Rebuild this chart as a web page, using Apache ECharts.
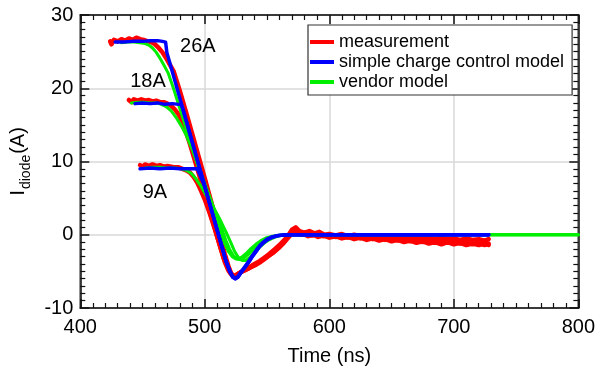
<!DOCTYPE html>
<html>
<head>
<meta charset="utf-8">
<script src="https://cdn.jsdelivr.net/npm/echarts@6/dist/echarts.min.js"></script>
<style>html,body{margin:0;padding:0;background:#fff}#c{width:598px;height:371px}</style>
</head>
<body>
<div id="c"></div>
<script>
// ---- data (time in ns, current in A) ----
const xTicks = [400, 500, 600, 700, 800];
const yTicks = [-10, 0, 10, 20, 30];
const legendNames = ['measurement', 'simple charge control model', 'vendor model'];

const meas26 = [[424,26.4],[425,26.0],[427,26.6],[430,26.4],[433,26.7],[436,26.5],[439,26.8],[442,26.6],[445,26.9],[448,26.7],[451,26.6],[454,26.4],[457,26.3],[460,26.0],[463,25.5],[466,24.9],[469,24.1],[472,23.2],[475,22.3],[480,19.6],[485,16.7],[490,13.7],[495,10.7],[500,7.7],[505,4.6],[509,2.1],[513,-0.5],[516,-2.6],[519,-4.3],[521,-5.2],[523,-5.7],[525,-5.6],[527,-5.3],[530,-5.0],[533,-4.8],[536,-4.5],[540,-4.2],[544,-3.8],[548,-3.3],[552,-2.8],[556,-2.3],[560,-1.7],[563,-1.1],[566,-0.5],[569,0.1],[572,0.6],[575,0.3],[578,0.0],[582,0.2],[586,-0.1],[590,0.1],[595,-0.2],[600,0.0],[605,-0.3],[610,-0.1],[615,-0.4],[620,-0.2],[625,-0.5],[630,-0.3],[635,-0.6],[640,-0.4],[645,-0.7],[650,-0.5],[655,-0.8],[660,-0.6],[665,-0.9],[670,-0.7],[675,-1.0],[680,-0.8],[685,-1.1],[690,-0.8],[695,-1.1],[700,-0.9],[705,-1.2],[710,-1.0],[715,-1.3],[720,-1.1],[725,-1.4],[728,-1.2]];
const meas18 = [[439,18.4],[441,18.1],[443,18.5],[446,18.3],[449,18.5],[452,18.3],[455,18.4],[458,18.2],[461,18.3],[464,18.1],[467,18.1],[470,17.9],[473,17.6],[476,17.1],[479,16.4],[482,15.3],[485,14.0],[488,12.4],[491,10.7],[495,8.4],[500,5.5],[505,2.6],[509,0.3],[513,-2.0],[516,-3.7],[519,-4.9],[522,-5.6],[524,-5.7],[526,-5.5],[529,-5.1],[532,-4.8],[536,-4.4],[540,-4.0],[544,-3.6],[548,-3.1],[552,-2.6],[556,-2.0],[560,-1.4],[564,-0.7],[567,-0.1],[570,0.7],[573,1.0],[576,0.5],[580,0.3],[584,0.5],[588,0.2],[592,0.4],[596,0.0],[600,0.1],[605,-0.1],[610,0.1],[615,-0.2],[620,0.0],[625,-0.2],[630,-0.1],[635,-0.3],[640,-0.2],[645,-0.4],[650,-0.2],[655,-0.4],[660,-0.3],[665,-0.5],[670,-0.3],[675,-0.5],[680,-0.4],[685,-0.6],[690,-0.4],[695,-0.6],[700,-0.5],[705,-0.7],[710,-0.5],[715,-0.7],[720,-0.6],[725,-0.8],[728,-0.6]];
const meas9 = [[448,9.5],[450,9.3],[452,9.6],[455,9.4],[458,9.6],[461,9.4],[464,9.5],[467,9.3],[470,9.4],[473,9.3],[476,9.2],[479,9.2],[482,9.0],[485,8.8],[488,8.5],[491,7.9],[494,7.1],[497,6.0],[500,4.8],[504,2.9],[508,0.8],[512,-1.4],[515,-3.1],[518,-4.4],[521,-5.3],[523,-5.6],[525,-5.5],[528,-5.2],[531,-4.9],[535,-4.6],[539,-4.2],[543,-3.8],[547,-3.4],[551,-2.9],[555,-2.4],[559,-1.8],[563,-1.2],[566,-0.6],[569,0.0],[572,0.5],[575,0.2],[579,0.1],[583,-0.2],[587,0.0],[591,-0.3],[595,-0.1],[600,-0.4],[605,-0.2],[610,-0.5],[615,-0.3],[620,-0.6],[625,-0.4],[630,-0.7],[635,-0.5],[640,-0.8],[645,-0.6],[650,-0.9],[655,-0.7],[660,-1.0],[665,-0.8],[670,-1.1],[675,-0.9],[680,-1.2],[685,-1.0],[690,-1.3],[695,-1.0],[700,-1.3],[705,-1.1],[710,-1.4],[715,-1.2],[720,-1.4],[725,-1.2],[728,-1.4]];

const scc26 = [[428,26.3],[435,26.3],[442,26.4],[450,26.4],[456,26.5],[462,26.5],[466,26.4],[468.5,26.3],[469.5,24.9],[475,21.6],[480,18.6],[485,15.6],[490,12.6],[495,9.6],[500,6.6],[505,3.6],[510,0.6],[514,-1.8],[517,-3.6],[520,-5.0],[522.5,-5.8],[524.5,-6.0],[526.5,-5.8],[529,-5.2],[532,-4.5],[535,-3.8],[538,-3.0],[541,-2.3],[544,-1.6],[547,-1.1],[550,-0.7],[554,-0.35],[558,-0.15],[563,-0.05],[570,0],[728,0]];
const scc18 = [[444,17.9],[450,18.0],[456,17.9],[462,18.0],[468,17.8],[474,17.9],[479,17.8],[481,17.8],[482.5,17.1],[485,15.6],[490,12.6],[495,9.6],[500,6.6],[505,3.6],[510,0.6],[514,-1.8],[517,-3.6],[520,-5.0],[522.5,-5.8],[524.5,-6.0],[526.5,-5.8],[529,-5.2],[532,-4.5],[535,-3.8],[538,-3.0],[541,-2.3],[544,-1.6],[547,-1.1],[550,-0.7],[554,-0.35],[558,-0.15],[563,-0.05],[570,0],[728,0]];
const scc9 = [[448,9.0],[456,9.1],[464,9.0],[472,9.1],[480,9.0],[488,9.0],[494,9.0],[495.5,9.0],[500,6.6],[505,3.6],[510,0.6],[514,-1.8],[517,-3.6],[520,-4.9],[522.5,-5.7],[524.5,-5.9],[526.5,-5.7],[529,-5.1],[532,-4.4],[535,-3.7],[538,-2.9],[541,-2.2],[544,-1.5],[547,-1.0],[550,-0.6],[554,-0.3],[558,-0.12],[563,-0.04],[570,0],[728,0]];

const vend26 = [[433,26.2],[438,26.3],[443,26.3],[448,26.2],[452,26.1],[455,25.9],[458,25.5],[461,24.9],[464,24.1],[467,23.2],[470.5,22.1],[475,19.9],[480,17.2],[485,14.5],[490,11.8],[495,9.1],[500,6.5],[505,4.0],[509,2.1],[513,0.2],[516,-1.2],[519,-2.3],[522,-3.0],[525,-3.3],[527,-3.3],[530,-3.0],[533,-2.6],[537,-1.9],[541,-1.3],[545,-0.8],[549,-0.45],[553,-0.25],[558,-0.1],[564,-0.03],[570,0],[800,0]];
const vend18 = [[441,18.0],[446,18.1],[451,18.1],[456,18.0],[461,18.0],[465,17.8],[469,17.5],[473,16.9],[477,16.0],[481,14.9],[485,13.6],[490,11.6],[495,9.3],[500,7.0],[505,4.7],[510,2.4],[514,0.6],[517,-0.8],[520,-2.0],[523,-2.9],[526,-3.3],[529,-3.4],[532,-3.1],[536,-2.5],[540,-1.8],[544,-1.2],[548,-0.7],[552,-0.4],[557,-0.15],[563,-0.05],[570,0],[800,0]];
const vend9 = [[452,9.1],[458,9.2],[464,9.2],[470,9.1],[476,9.1],[481,9.0],[485,8.8],[489,8.4],[493,7.6],[497,6.6],[501,5.4],[505,4.3],[509,3.1],[513,1.8],[517,0.4],[521,-1.1],[524,-2.3],[527,-3.1],[530,-3.5],[533,-3.5],[536,-3.1],[540,-2.4],[544,-1.7],[548,-1.1],[552,-0.65],[556,-0.35],[560,-0.15],[565,-0.05],[572,0],[800,0]];

const annotations = [['26A', 494.4, 25.7], ['18A', 454.4, 20.9], ['9A', 459.9, 5.8]];

// ---- chart ----
const FONT = '"Liberation Sans", Arial, Helvetica, sans-serif';
const INK = '#000';
const RED = '#ff0000', BLUE = '#0000ff', GREEN = '#00ee00';

function lineSeries(name, data, color, width, z) {
  return {
    type: 'line', name: name, data: data, xAxisIndex: 0, yAxisIndex: 0,
    showSymbol: false, symbol: 'none', z: z,
    lineStyle: { color: color, width: width, join: 'round', cap: 'round' },
    itemStyle: { color: color }, animation: false, silent: true
  };
}

function makeAxis(kind, extra) {
  const ticks = kind === 'x' ? xTicks : yTicks;
  return Object.assign({
    type: 'value', min: ticks[0], max: ticks[ticks.length - 1], interval: ticks[1] - ticks[0],
    axisLine: { show: true, onZero: false, lineStyle: { color: '#111', width: 1.5 } },
    axisTick: { show: true, inside: true, length: 9, lineStyle: { color: '#111', width: 1.5 } },
    minorTick: { show: true, splitNumber: 10, length: 5, lineStyle: { color: '#111', width: 1.2 } },
    axisLabel: { show: false },
    splitLine: { show: false }
  }, extra);
}

const option = {
  animation: false,
  backgroundColor: '#fff',
  textStyle: { fontFamily: FONT },
  grid: { left: 78, right: 16, top: 15, bottom: 59, containLabel: false,
          show: true, borderColor: '#111', borderWidth: 1.5, backgroundColor: 'transparent' },
  legend: {
    data: legendNames.map(n => ({ name: n, icon: 'rect' })),
    orient: 'vertical', left: 308, top: 25,
    backgroundColor: '#fff', borderColor: '#333', borderWidth: 1.2, borderRadius: 0,
    padding: [7, 8, 3, 2], itemGap: 0, itemWidth: 24, itemHeight: 4,
    textStyle: { fontFamily: FONT, fontSize: 18, color: INK, lineHeight: 20 },
    selectedMode: false
  },
  xAxis: [
    makeAxis('x', {
      position: 'bottom',
      name: 'Time (ns)', nameLocation: 'middle', nameGap: 38,
      nameTextStyle: { fontFamily: FONT, fontSize: 20, color: INK },
      axisLabel: { show: true, margin: 9, fontFamily: FONT, fontSize: 20, color: INK },
      splitLine: { show: true, lineStyle: { color: '#d9d9d9', width: 1.5 } }
    }),
    makeAxis('x', { position: 'top' })
  ],
  yAxis: [
    makeAxis('y', {
      position: 'left',
      name: '{i|I}{s|diode}{p|(A)}', nameLocation: 'middle', nameGap: 41, nameRotate: 90,
      nameTextStyle: {
        fontFamily: FONT, color: INK,
        rich: {
          i: { fontFamily: FONT, fontSize: 21, color: INK, lineHeight: 30, verticalAlign: 'middle' },
          s: { fontFamily: FONT, fontSize: 14, color: INK, lineHeight: 14, verticalAlign: 'bottom', padding: [0, 1, 0, 1] },
          p: { fontFamily: FONT, fontSize: 20, color: INK, lineHeight: 30, verticalAlign: 'middle' }
        }
      },
      axisLabel: { show: true, margin: 7, fontFamily: FONT, fontSize: 20, color: INK },
      splitLine: { show: true, lineStyle: { color: '#d9d9d9', width: 1.5 } }
    }),
    makeAxis('y', { position: 'right' })
  ],
  series: [
    lineSeries(legendNames[0], meas26, RED, 4.5, 2),
    lineSeries(legendNames[0], meas18, RED, 4.5, 2),
    lineSeries(legendNames[0], meas9, RED, 4.5, 2),
    lineSeries(legendNames[2], vend26, GREEN, 3, 3),
    lineSeries(legendNames[2], vend18, GREEN, 3, 3),
    lineSeries(legendNames[2], vend9, GREEN, 3, 3),
    lineSeries(legendNames[1], scc26, BLUE, 3.5, 4),
    lineSeries(legendNames[1], scc18, BLUE, 3.5, 4),
    lineSeries(legendNames[1], scc9, BLUE, 3.5, 4),
    {
      type: 'line', name: 'frame', xAxisIndex: 1, yAxisIndex: 1, data: [],
      showSymbol: false, silent: true
    },
    {
      type: 'scatter', name: 'labels', xAxisIndex: 0, yAxisIndex: 0, z: 6,
      data: annotations.map(a => ({ name: a[0], value: [a[1], a[2]] })),
      symbolSize: 1, itemStyle: { color: 'rgba(0,0,0,0)' }, silent: true,
      label: { show: true, position: 'inside', formatter: p => p.name, fontFamily: FONT,
               fontSize: 20, color: '#000', textBorderWidth: 0, opacity: 1 }
    }
  ]
};

const chart = echarts.init(document.getElementById('c'), null, { renderer: 'canvas' });
chart.setOption(option);
</script>
</body>
</html>
